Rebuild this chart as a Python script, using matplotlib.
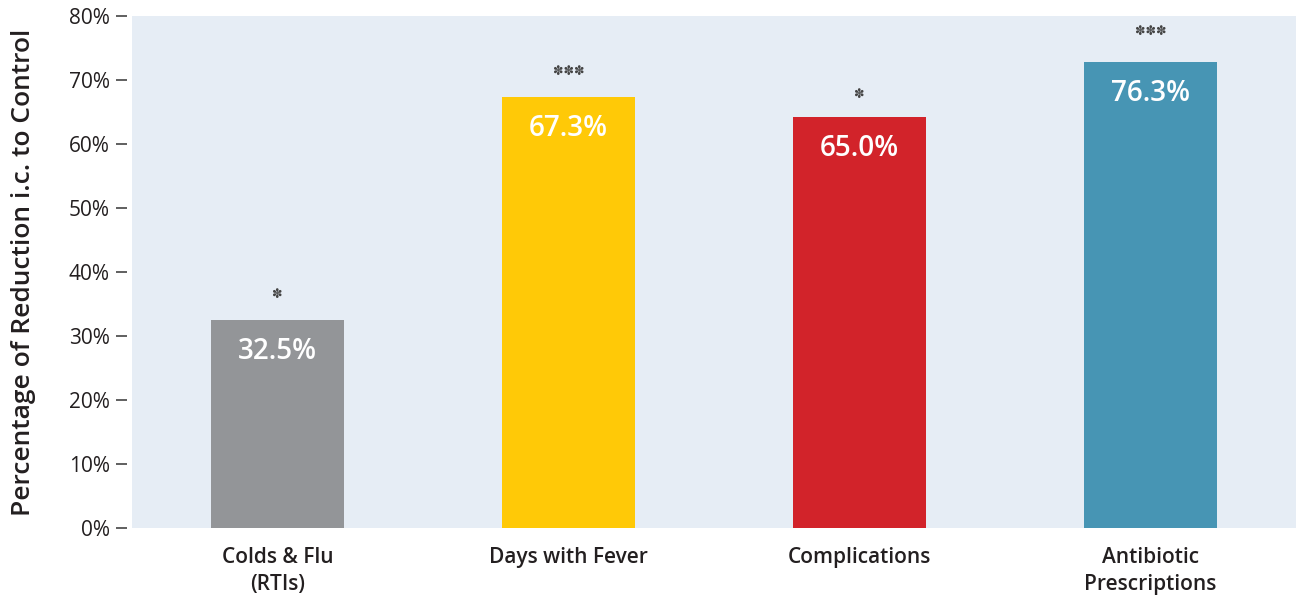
import matplotlib.pyplot as plt
import numpy as np

categories = ['Colds & Flu\n(RTIs)', 'Days with Fever', 'Complications', 'Antibiotic\nPrescriptions']
values = [32.5, 67.3, 64.2, 72.8]
labels = ['32.5%', '67.3%', '65.0%', '76.3%']
stars = ['*', '***', '*', '***']
star_offset = [4.0, 4.0, 3.6, 4.8]
colors = ['#939598', '#FFC907', '#D2232A', '#4795B4']

plt.rcParams['font.family'] = ['Open Sans', 'DejaVu Sans']
txt = '#231F20'

fig = plt.figure(figsize=(12.96, 5.98), dpi=100)
ax = fig.add_axes([0.1019, 0.117, 0.8981, 0.8563])
ax.set_facecolor('#E6EDF5')
for sp in ax.spines.values():
    sp.set_visible(False)
ax.spines['left'].set_position(('outward', 4))

x = np.arange(len(categories))
ax.bar(x, values, width=0.46, color=colors, zorder=2)

for xi, v, lab, s, off in zip(x, values, labels, stars, star_offset):
    ax.text(xi, v - 4.9, lab, ha='center', va='center', color='white',
            fontsize=20, fontweight='semibold')
    ax.text(xi, v + off, '\u273d' * len(s), ha='center', va='center',
            color='#444444', fontsize=9, family='DejaVu Sans')

ax.set_xlim(-0.5, 3.5)
ax.set_ylim(0, 80)
ax.set_yticks(np.arange(0, 81, 10))
ax.set_yticklabels([f'{t}%' for t in range(0, 81, 10)], fontsize=15, color=txt)
ax.set_xticks(x)
ax.set_xticklabels(categories, fontsize=15, fontweight='semibold', color=txt,
                   linespacing=1.35)
ax.tick_params(axis='x', length=0, pad=14)
ax.tick_params(axis='y', length=8, width=1.2, color='#444444', pad=4)

ax.set_ylabel('Percentage of Reduction i.c. to Control', fontsize=19,
              fontweight='semibold', color=txt, labelpad=24)

fig.savefig('out.png', dpi=100)
